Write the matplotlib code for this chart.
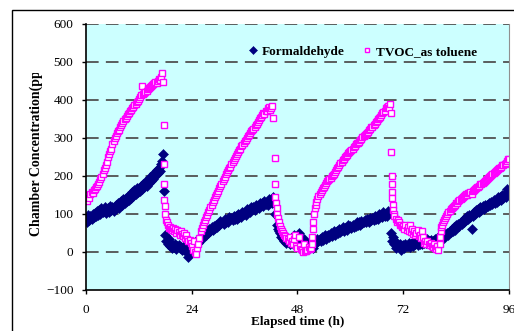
import numpy as np
import matplotlib
matplotlib.use("Agg")
import matplotlib.pyplot as plt
from matplotlib.patches import Rectangle
from matplotlib.transforms import Bbox

plt.rcParams['font.family'] = ['Liberation Serif', 'DejaVu Serif']

# formaldehyde, one reading every 0.25 h from 0 to 96 h (one row per hour)
hcho = [
    90, 78, 98, 85,  95, 88, 100, 92,  102, 95, 108, 98,  110, 100, 115, 105,
    108, 118, 102, 112,  115, 105, 120, 110,  118, 108, 112, 125,  120, 130, 115, 128,
    135, 125, 140, 130,  142, 135, 148, 138,  150, 143, 158, 148,  162, 152, 168, 158,
    168, 160, 175, 165,  178, 170, 185, 175,  190, 182, 198, 188,  200, 192, 208, 200,
    215, 208, 222, 212,  232, 240, 258, 160,  45, 30, 20, 35,  15, 22, 10, 18,
    12, 20, 8, 15,  18, 10, 14, 5,  12, 4, 15, 8,  0, -12, 8, 5,
    15, 5, 18, 25,  20, 30, 25, 38,  40, 35, 48, 42,  52, 45, 58, 50,
    60, 55, 65, 58,  68, 62, 72, 65,  75, 70, 82, 76,  80, 75, 86, 80,
    85, 80, 92, 86,  90, 84, 96, 88,  94, 88, 100, 92,  98, 92, 105, 100,
    105, 98, 112, 106,  110, 104, 118, 112,  118, 110, 125, 118,  122, 115, 130, 124,
    128, 120, 135, 126,  132, 125, 140, 134,  138, 130, 145, 135,  100, 70, 60, 55,
    50, 40, 45, 35,  30, 38, 25, 32,  28, 20, 35, 25,  35, 45, 30, 40,
    40, 50, 35, 30,  30, 25, 35, 20,  25, 15, 20, 10,  15, 20, 10, 25,
    30, 25, 35, 28,  35, 30, 40, 32,  38, 45, 35, 42,  45, 40, 50, 42,
    48, 55, 45, 52,  55, 50, 60, 52,  58, 65, 55, 62,  62, 58, 70, 65,
    68, 62, 72, 66,  72, 68, 78, 70,  78, 72, 82, 76,  80, 85, 78, 88,
    85, 80, 90, 84,  90, 85, 95, 88,  92, 88, 100, 95,  98, 92, 105, 96,
    100, 95, 108, 102,  105, 50, 30, 40,  20, 10, 25, 15,  12, 20, 5, 15,
    18, 10, 22, 15,  15, 25, 12, 20,  22, 15, 28, 20,  25, 18, 30, 22,
    28, 22, 32, 25,  30, 25, 35, 28,  28, 32, 25, 30,  30, 35, 28, 38,
    35, 42, 32, 40,  42, 38, 48, 45,  50, 45, 56, 52,  60, 55, 65, 58,
    70, 65, 75, 68,  80, 75, 85, 78,  90, 84, 95, 88,  98, 92, 60, 96,
    105, 100, 110, 104,  112, 106, 118, 110,  120, 114, 125, 118,  125, 120, 130, 124,
    132, 126, 138, 130,  138, 132, 144, 136,  145, 138, 150, 142,  152, 146, 165, 155,
    160,
]
hcho_t = np.arange(len(hcho)) * 0.25

# TVOC (as toluene): regular 0.25 h blocks (start time, values) and the fast drops
tvoc_rise1 = [  # from 0 h
    145, 135, 150, 142,  152, 158, 155, 162,  165, 170, 175, 180,  185, 192, 198, 205,
    215, 222, 230, 238,  250, 258, 265, 272,  285, 292, 300, 305,  312, 318, 322, 328,
    335, 340, 345, 350,  352, 358, 362, 366,  370, 375, 378, 382,  386, 390, 395, 398,
    402, 408, 412, 438,  415, 418, 422, 425,  428, 432, 435, 438,  440, 442, 445, 448,
    446, 450, 455, 452,  460, 472, 448,
]
tvoc_drop1_t = [17.6, 17.65, 17.7, 17.8, 17.9, 18.0, 18.15, 18.3, 18.5, 18.75]
tvoc_drop1 = [335, 232, 178, 137, 120, 100, 85, 78, 70, 62]
tvoc_cycle2 = [  # from 19 h
    65, 60, 58, 62,  55, 60, 50, 58,  52, 45, 55, 48,  42, 50, 38, 45,
    35, 28, 32, 25,  15, 5, 28, 0,  -5, 10, 20, 38,  55, 62, 70, 78,
    85, 92, 98, 105,  110, 118, 125, 132,  138, 145, 150, 155,  160, 168, 175, 180,
    188, 192, 198, 205,  210, 215, 220, 225,  232, 238, 242, 248,  252, 258, 262, 268,
    272, 278, 282, 288,  292, 296, 300, 305,  308, 312, 318, 322,  325, 330, 335, 338,
    342, 348, 352, 355,  360, 365, 362, 370,  372, 378, 382, 375,  380, 385, 352,
]
tvoc_drop2_t = [42.8, 42.9, 43.0, 43.1, 43.25, 43.4, 43.6, 43.8]
tvoc_drop2 = [248, 180, 145, 130, 115, 100, 90, 78]
tvoc_low2 = [  # from 44 h
    68, 60, 55, 50,  45, 42, 38, 35,  30, 40, 25, 28,  20, 35, 45, 15,
    10, 40, 15, 8,  5, 0, 20, 3,  2, 5, 12, 8,  10, 20,
]
tvoc_jump2_t = [51.4, 51.5, 51.6, 51.75, 51.9, 52.1]
tvoc_jump2 = [40, 60, 80, 100, 115, 125]
tvoc_rise3 = [  # from 52.25 h
    132, 140, 148,  152, 158, 162, 168,  172, 176, 182, 186,  190, 193, 196, 200,
    203, 206, 210, 215,  220, 225, 230, 235,  238, 242, 245, 250,  252, 256, 260, 262,
    265, 268, 272, 276,  280, 283, 286, 288,  290, 294, 298, 302,  305, 308, 310, 312,
    315, 320, 325, 328,  330, 335, 338, 342,  345, 350, 352, 355,  360, 365, 368, 372,
    378, 382, 385, 378,  390,
]
tvoc_drop3_t = [69.15, 69.3, 69.35, 69.4, 69.45, 69.5, 69.6, 69.75, 69.9]
tvoc_drop3 = [365, 262, 200, 180, 158, 142, 125, 110, 100]
tvoc_low3 = [  # from 70 h
    95, 88, 80, 85,  78, 72, 70, 65,  68, 60, 72, 58,  65, 55, 70, 52,
    60, 48, 55, 45,  50, 58, 42, 45,  38, 55, 40, 25,  28, 20, 30, 22,
    18, 25, 15, 12,  20, 10, 8, 15,  5,
]
tvoc_jump3_t = [80.25, 80.4, 80.5, 80.65, 80.8]
tvoc_jump3 = [20, 40, 55, 65, 72]
tvoc_rise4 = [  # from 81 h
    78, 85, 90, 95,  100, 105, 108, 112,  115, 118, 122, 125,  128, 130, 135, 138,
    140, 142, 145, 148,  150, 152, 150, 155,  155, 158, 152, 160,  162, 165, 168, 170,
    172, 175, 178, 180,  182, 185, 188, 190,  192, 195, 198, 200,  202, 205, 208, 210,
    212, 215, 218, 220,  222, 225, 228, 230,  232, 235, 240, 245,  245,
]


def block(start, vals):
    return start + 0.25 * np.arange(len(vals))


tvoc_t = np.concatenate([
    block(0, tvoc_rise1), tvoc_drop1_t, block(19, tvoc_cycle2), tvoc_drop2_t,
    block(44, tvoc_low2), tvoc_jump2_t, block(52.25, tvoc_rise3), tvoc_drop3_t,
    block(70, tvoc_low3), tvoc_jump3_t, block(81, tvoc_rise4),
])
tvoc = np.concatenate([
    tvoc_rise1, tvoc_drop1, tvoc_cycle2, tvoc_drop2, tvoc_low2, tvoc_jump2,
    tvoc_rise3, tvoc_drop3, tvoc_low3, tvoc_jump3, tvoc_rise4,
])

fig = plt.figure(figsize=(5.14, 3.31), dpi=100)
ax = fig.add_axes([86 / 514, 41 / 331, 423 / 514, 266 / 331])
ax.set_facecolor('#CCFFFF')

ax.plot(hcho_t, hcho, linestyle='none', marker='D', markersize=5.0,
        color='#000080', markeredgewidth=0.4, label='Formaldehyde')
ax.plot(tvoc_t, tvoc, linestyle='none', marker='s', markersize=3.7,
        markerfacecolor='white', markeredgecolor='#FF00FF', markeredgewidth=1.0,
        label='TVOC_as toluene')

ax.set_xlim(0, 96)
ax.set_ylim(-100, 600)
ax.set_xticks([0, 24, 48, 72, 96])
ax.set_yticks(range(-100, 601, 100))
for v in range(0, 601, 100):
    ax.axhline(v, color='#505050', lw=1.3, dashes=(7, 4), zorder=0.5)

for s in ['left', 'bottom']:
    ax.spines[s].set_linewidth(1.2)
ax.spines['top'].set_visible(False)
ax.spines['right'].set_color('#909090')
ax.tick_params(direction='out', length=3, width=1, labelsize=9.5)
ax.tick_params(axis='x', pad=7)
ax.tick_params(axis='y', pad=6)

ax.set_xlabel('Elapsed time (h)', fontsize=9.5, fontweight='bold', labelpad=0)
yl = fig.text(36 / 514, 1 - 147 / 331, 'Chamber Concentration(ppb)', rotation=90,
              ha='center', va='center', fontsize=10, fontweight='bold')
yl.set_clip_box(Bbox.from_extents(0, 0, 514, 331 - 73))
yl.set_clip_on(True)

ax.legend(loc='center', bbox_to_anchor=(0.655, 0.895), ncol=2, frameon=False,
          prop={'weight': 'bold', 'size': 9.5}, handlelength=0.6, handletextpad=0.4,
          columnspacing=1.4, markerscale=0.75, numpoints=1)

fig.add_artist(Rectangle((12 / 514, -0.2), 1.2, 1.2 - 10 / 331,
                         transform=fig.transFigure, fill=False, lw=1, color='black'))

fig.savefig('out.png', dpi=100)
